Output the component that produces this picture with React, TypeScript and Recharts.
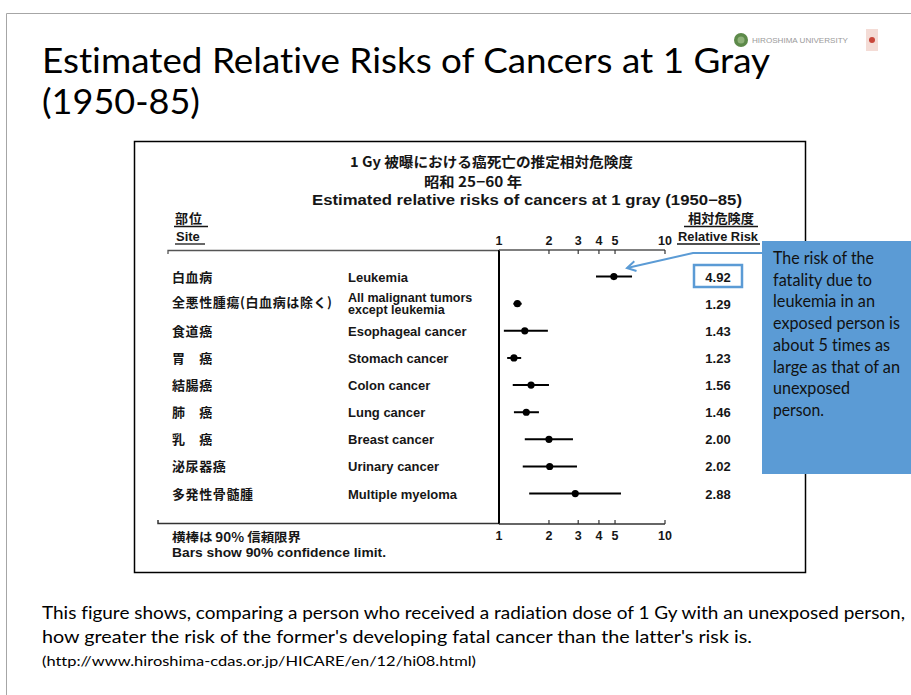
import React from 'react';
import { ScatterChart, Scatter, XAxis, YAxis, ErrorBar, ReferenceLine } from 'recharts';

// ---------- data ----------
const sitesJa = ['白血病', '全悪性腫瘍(白血病は除く)', '食道癌', '胃　癌', '結腸癌', '肺　癌', '乳　癌', '泌尿器癌', '多発性骨髄腫'];
const sitesEn = ['Leukemia', 'All malignant tumors\nexcept leukemia', 'Esophageal cancer', 'Stomach cancer', 'Colon cancer', 'Lung cancer', 'Breast cancer', 'Urinary cancer', 'Multiple myeloma'];
const relativeRisk = [4.92, 1.29, 1.43, 1.23, 1.56, 1.46, 2.0, 2.02, 2.88];
const riskLabels = ['4.92', '1.29', '1.43', '1.23', '1.56', '1.46', '2.00', '2.02', '2.88'];
const ciLower = [3.84, 1.22, 1.07, 1.12, 1.21, 1.23, 1.43, 1.39, 1.52];
const ciUpper = [6.33, 1.37, 1.97, 1.36, 2.0, 1.74, 2.79, 2.95, 5.43];
const axisTicks = [1, 2, 3, 4, 5, 10];

const rows = relativeRisk.map((rr, i) => ({ x: rr, y: i, err: [rr - ciLower[i], ciUpper[i] - rr] }));
const rowTicks = rows.map((r) => r.y);

// ---------- styles ----------
const scanFont = "'Liberation Sans', Arial, sans-serif";
const cjkFont = "'Noto Sans CJK JP', 'Noto Sans CJK SC', sans-serif";
const slideFont = "Lato, 'Open Sans', sans-serif";
const ink = '#161616';
const blue = '#5b9bd5';
const noLig = { fontVariantLigatures: 'none' as const };

const LeftTick = (props: any) => {
  const { y, payload } = props;
  const i = payload.value;
  const en = sitesEn[i].split('\n');
  return (
    <g>
      <text x={172} y={en.length > 1 ? y + 3 : y + 5} fontFamily={cjkFont} fontWeight={700} fontSize={13} letterSpacing={0.6} fill={ink}>
        {sitesJa[i]}
      </text>
      {en.map((line, k) => (
        <text key={k} x={348} y={en.length > 1 ? y - 2 + k * 12.5 : y + 5} fontFamily={scanFont} fontWeight={700} fontSize={en.length > 1 ? 12.5 : 13} fill={ink}>
          {line}
        </text>
      ))}
    </g>
  );
};

const RightTick = (props: any) => {
  const { y, payload } = props;
  return (
    <text x={718} y={y + 5} textAnchor="middle" fontFamily={scanFont} fontWeight={700} fontSize={13} fill={ink}>
      {riskLabels[payload.value]}
    </text>
  );
};

const TopTick = (props: any) => {
  const { x, payload } = props;
  return (
    <g>
      {payload.value !== 1 && <line x1={x} x2={x} y1={250} y2={254} stroke="#333" strokeWidth={1.2} />}
      <text x={x} y={245} textAnchor="middle" fontFamily={scanFont} fontWeight={700} fontSize={12.5} fill={ink}>
        {payload.value}
      </text>
    </g>
  );
};

const BottomTick = (props: any) => {
  const { x, payload } = props;
  return (
    <g>
      {payload.value !== 1 && <line x1={x} x2={x} y1={520} y2={524} stroke="#333" strokeWidth={1.2} />}
      <text x={x} y={540} textAnchor="middle" fontFamily={scanFont} fontWeight={700} fontSize={12.5} fill={ink}>
        {payload.value}
      </text>
    </g>
  );
};

const Dot = (props: any) => <circle cx={props.cx} cy={props.cy} r={3.6} fill="#000" />;

const calloutLines = [
  ['The risk of the', 101],
  ['fatality due to', 99],
  ['leukemia in an', 102],
  ['exposed person is', 127],
  ['about 5 times as', 117],
  ['large as that of an', 127],
  ['unexposed', 77],
  ['person.', 51],
] as const;

export default function App() {
  return (
    <div style={{ position: 'absolute', left: 0, top: 0, width: 911, height: 695, background: '#fff', overflow: 'hidden' }}>
      {/* background slide */}
      <svg width={911} height={695} style={{ position: 'absolute', left: 0, top: 0 }}>
        <rect x={0} y={0} width={911} height={695} fill="#fff" />
        <path d="M6.5 695 V13.5 H911" stroke="#a6a6a6" strokeWidth={1} fill="none" />
        <text x={42} y={73} fontFamily={slideFont} fontSize={35} fill="#000" style={noLig} textLength={728} lengthAdjust="spacingAndGlyphs">
          Estimated Relative Risks of Cancers at 1 Gray
        </text>
        <text x={42} y={114} fontFamily={slideFont} fontSize={35} fill="#000" style={noLig} textLength={158} lengthAdjust="spacingAndGlyphs">
          (1950-85)
        </text>
        {/* logo */}
        <circle cx={741} cy={40} r={7} fill="#5d8a4a" />
        <circle cx={741} cy={40} r={3.5} fill="#8fb27a" />
        <text x={752} y={43} fontFamily={scanFont} fontSize={7} fill="#9a9a9a" textLength={96} lengthAdjust="spacingAndGlyphs">
          HIROSHIMA UNIVERSITY
        </text>
        <rect x={866} y={29} width={12} height={22} fill="#f4dcd6" />
        <circle cx={872} cy={40} r={3} fill="#c8473a" />

        {/* chart frame */}
        <rect x={134.5} y={141.5} width={671} height={431} fill="#fff" stroke="#000" strokeWidth={1.5} />
        <text x={350} y={167} fontFamily={cjkFont} fontWeight={700} fontSize={14} fill={ink} textLength={283} lengthAdjust="spacingAndGlyphs">
          1 Gy 被曝における癌死亡の推定相対危険度
        </text>
        <text x={424} y={187} fontFamily={cjkFont} fontWeight={700} fontSize={14} fill={ink} textLength={98} lengthAdjust="spacingAndGlyphs">
          昭和 25−60 年
        </text>
        <text x={312} y={205} fontFamily={scanFont} fontWeight={700} fontSize={14} fill={ink} textLength={430} lengthAdjust="spacingAndGlyphs">
          Estimated relative risks of cancers at 1 gray (1950−85)
        </text>
        <text x={175} y={223} fontFamily={cjkFont} fontWeight={700} fontSize={13} fill={ink} letterSpacing={1}>
          部位
        </text>
        <line x1={174} x2={208} y1={226.5} y2={226.5} stroke={ink} strokeWidth={1.3} />
        <text x={688} y={223} fontFamily={cjkFont} fontWeight={700} fontSize={13} fill={ink} textLength={66} lengthAdjust="spacingAndGlyphs">
          相対危険度
        </text>
        <line x1={684} x2={758} y1={226.5} y2={226.5} stroke={ink} strokeWidth={1.3} />
        <text x={176} y={241} fontFamily={scanFont} fontWeight={700} fontSize={13} fill={ink}>
          Site
        </text>
        <line x1={175} x2={205} y1={244} y2={244} stroke={ink} strokeWidth={1.3} />
        <text x={678} y={241} fontFamily={scanFont} fontWeight={700} fontSize={13} fill={ink} textLength={80} lengthAdjust="spacingAndGlyphs">
          Relative Risk
        </text>
        <line x1={677} x2={760} y1={244} y2={244} stroke={ink} strokeWidth={1.3} />
        {/* axis line extensions to the left */}
        <path d="M168 254 V250.5 H500" stroke="#555" strokeWidth={1.3} fill="none" />
        <path d="M158 520 V523.5 H500" stroke="#333" strokeWidth={1.5} fill="none" />
        <text x={172} y={542} fontFamily={cjkFont} fontWeight={700} fontSize={12.5} fill={ink} textLength={129} lengthAdjust="spacingAndGlyphs">
          横棒は 90% 信頼限界
        </text>
        <text x={172} y={557} fontFamily={scanFont} fontWeight={700} fontSize={12.5} fill={ink} textLength={214} lengthAdjust="spacingAndGlyphs">
          Bars show 90% confidence limit.
        </text>

        {/* caption */}
        <text x={42} y={619} fontFamily={slideFont} fontSize={18} fill="#000" style={noLig} textLength={863} lengthAdjust="spacingAndGlyphs">
          This figure shows, comparing a person who received a radiation dose of 1 Gy with an unexposed person,
        </text>
        <text x={42} y={643} fontFamily={slideFont} fontSize={18} fill="#000" style={noLig} textLength={710} lengthAdjust="spacingAndGlyphs">
          how greater the risk of the former's developing fatal cancer than the latter's risk is.
        </text>
        <text x={42} y={666} fontFamily={slideFont} fontSize={14} fill="#000" style={noLig} textLength={434} lengthAdjust="spacingAndGlyphs">
          (http://www.hiroshima-cdas.or.jp/HICARE/en/12/hi08.html)
        </text>
      </svg>

      {/* the chart */}
      <div style={{ position: 'absolute', left: 0, top: 0 }}>
        <ScatterChart width={911} height={695} margin={{ top: 230, right: 146, bottom: 141, left: 0 }}>
          <XAxis
            xAxisId="top"
            orientation="top"
            dataKey="x"
            type="number"
            scale="log"
            domain={[1, 10]}
            allowDataOverflow
            ticks={axisTicks}
            interval={0}
            height={20}
            tickLine={false}
            axisLine={{ stroke: '#555', strokeWidth: 1.3 }}
            tick={TopTick}
          />
          <XAxis
            xAxisId="bottom"
            orientation="bottom"
            dataKey="x"
            type="number"
            scale="log"
            domain={[1, 10]}
            allowDataOverflow
            ticks={axisTicks}
            interval={0}
            height={30}
            tickLine={false}
            axisLine={{ stroke: '#333', strokeWidth: 1.5 }}
            tick={BottomTick}
          />
          <YAxis
            yAxisId="left"
            dataKey="y"
            type="number"
            domain={[-0.98, 9.12]}
            allowDataOverflow
            reversed
            ticks={rowTicks}
            interval={0}
            width={499}
            tickLine={false}
            axisLine={false}
            tick={LeftTick}
          />
          <YAxis
            yAxisId="right"
            orientation="right"
            type="number"
            domain={[-0.98, 9.12]}
            allowDataOverflow
            reversed
            ticks={rowTicks}
            interval={0}
            width={100}
            tickLine={false}
            axisLine={false}
            tick={RightTick}
          />
          <ReferenceLine x={1} xAxisId="bottom" yAxisId="left" stroke="#000" strokeWidth={2} />
          <Scatter data={rows} xAxisId="bottom" yAxisId="left" shape={Dot} isAnimationActive={false}>
            <ErrorBar dataKey="err" direction="x" width={0} stroke="#000" strokeWidth={2} isAnimationActive={false} />
          </Scatter>
        </ScatterChart>
      </div>

      {/* callout overlay */}
      <svg width={911} height={695} style={{ position: 'absolute', left: 0, top: 0, pointerEvents: 'none' }}>
        <rect x={694} y={265} width={48} height={22} fill="none" stroke={blue} strokeWidth={2.5} />
        <polyline points="762,253 693,253 627,268" fill="none" stroke={blue} strokeWidth={2} />
        <polyline points="636.5,271 627,268 634.3,261.2" fill="none" stroke={blue} strokeWidth={2} />
        <rect x={762} y={241} width={160} height={233} fill={blue} />
        {calloutLines.map(([t, w], k) => (
          <text key={k} x={773} y={264 + k * 21.7} fontFamily={slideFont} fontSize={17} fill="#111" style={noLig} textLength={w} lengthAdjust="spacingAndGlyphs">
            {t}
          </text>
        ))}
      </svg>
    </div>
  );
}
